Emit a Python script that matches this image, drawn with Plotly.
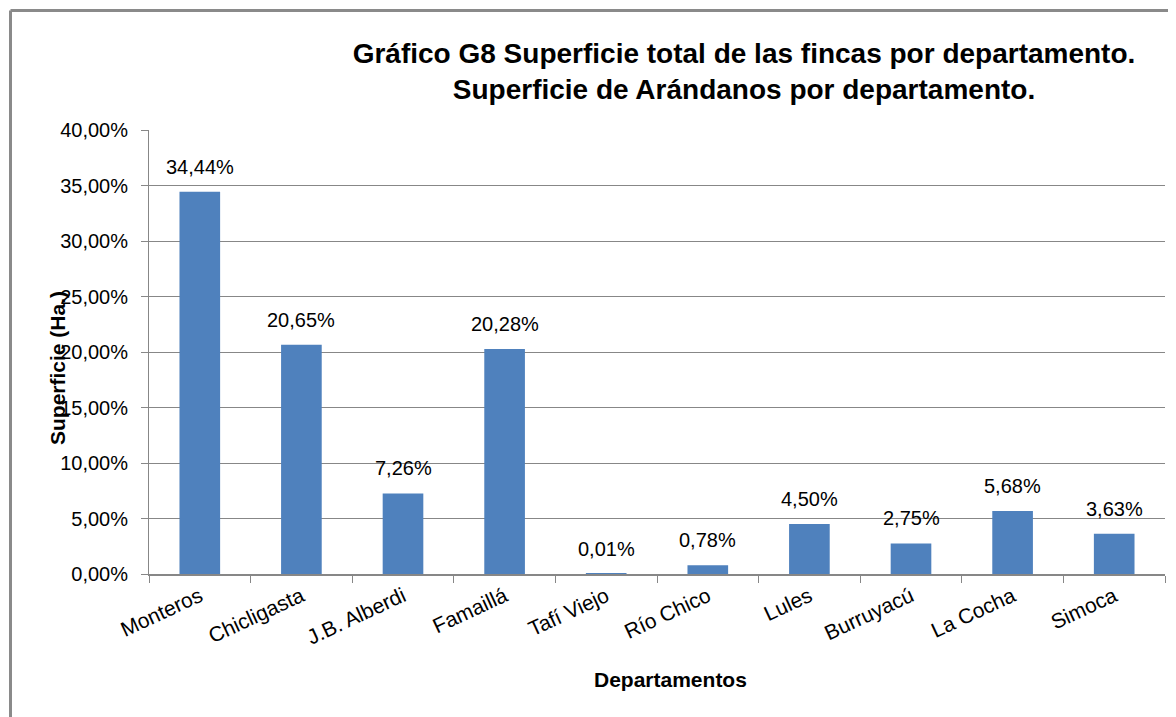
import plotly.graph_objects as go

categories = ["Monteros", "Chicligasta", "J.B. Alberdi", "Famaillá", "Tafí Viejo",
              "Río Chico", "Lules", "Burruyacú", "La Cocha", "Simoca"]
values = [0.3444, 0.2065, 0.0726, 0.2028, 0.0001, 0.0078, 0.0450, 0.0275, 0.0568, 0.0363]
y_ticks = [0, 0.05, 0.10, 0.15, 0.20, 0.25, 0.30, 0.35, 0.40]

title_text = ("Gráfico G8 Superficie total de las fincas por departamento.<br>"
              "Superficie de Arándanos por departamento.")
y_title = "Superficie (Ha.)"
x_title = "Departamentos"

FONT = "Liberation Sans, Arial, sans-serif"
GRID = "#878787"
BAR = "#4F81BD"

OFF = 8  # page body margin
W, H = 1176 - OFF, 717 - OFF
# plot area in page coordinates: x 149..1165, y 130..574
L = 149 - OFF
R = W - (1165 - OFF)
T = 130 - OFF
B = H - (574 - OFF)
pw = W - L - R
ph = H - T - B


def px_x(x):  # page px -> paper
    return (x - OFF - L) / pw


def px_y(y):
    return (H - B - (y - OFF)) / ph


fig = go.Figure()
fig.add_trace(go.Bar(x=categories, y=values, marker=dict(color=BAR, line=dict(width=0)),
                     width=0.4, hoverinfo="skip"))

annotations = []
for c, v in zip(categories, values):
    lbl = f"{v * 100:.2f}%".replace(".", ",")
    annotations.append(dict(x=c, y=v, xref="x", yref="y", text=lbl, showarrow=False,
                            yanchor="bottom", yshift=12,
                            font=dict(family=FONT, size=20, color="#000000")))

annotations.append(dict(x=px_x(57), y=px_y(368), xref="paper", yref="paper", text=y_title,
                        showarrow=False, textangle=-90, xanchor="center", yanchor="middle",
                        font=dict(family=FONT, size=21, color="#000000", weight="bold")))
annotations.append(dict(x=px_x(670), y=px_y(679), xref="paper", yref="paper", text=x_title,
                        showarrow=False, xanchor="center", yanchor="middle",
                        font=dict(family=FONT, size=21, color="#000000", weight="bold")))

shapes = [
    dict(type="line", xref="paper", yref="paper", x0=px_x(10.5), x1=px_x(10.5),
         y0=px_y(10.5), y1=px_y(760), line=dict(color="#8a8a8a", width=3)),
    dict(type="line", xref="paper", yref="paper", x0=px_x(10.5), x1=px_x(1250),
         y0=px_y(10.5), y1=px_y(10.5), line=dict(color="#8a8a8a", width=3)),
]

fig.update_layout(
    width=W, height=H,
    margin=dict(l=L, r=R, t=T, b=B, pad=0),
    paper_bgcolor="white", plot_bgcolor="white",
    separators=",.",
    showlegend=False,
    bargap=0.6,
    title=dict(text=title_text, xref="container", yref="container",
               x=(744 - OFF) / W, xanchor="center", y=1 - 55 / H, yanchor="top",
               font=dict(family=FONT, size=28, color="#000000", weight="bold")),
    xaxis=dict(type="category", showgrid=False, showline=True, linecolor=GRID, linewidth=2,
               ticks="outside", ticklen=7, tickcolor=GRID, tickwidth=1,
               tickson="boundaries", tickangle=-25,
               tickfont=dict(family=FONT, size=21, color="#000000")),
    yaxis=dict(range=[0, 0.40], tickvals=y_ticks, tickformat=".2%", showgrid=True,
               gridcolor=GRID, gridwidth=1, showline=True, linecolor=GRID, linewidth=1,
               ticks="outside", ticklen=7, tickcolor=GRID, tickwidth=1,
               ticklabelstandoff=9, zeroline=False,
               tickfont=dict(family=FONT, size=20, color="#000000")),
    annotations=annotations,
    shapes=shapes,
)

fig.write_html("out.html")
